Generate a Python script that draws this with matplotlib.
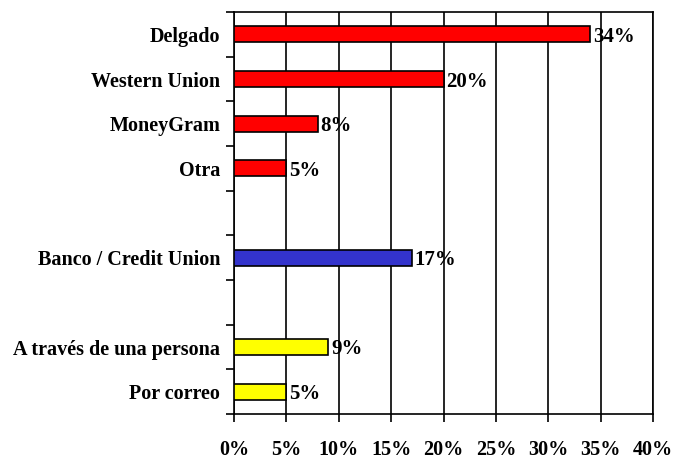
import matplotlib
matplotlib.use("Agg")
import matplotlib.pyplot as plt
import numpy as np

# datos del gráfico (de arriba hacia abajo, con huecos vacíos)
categories = ["Delgado", "Western Union", "MoneyGram", "Otra", "",
              "Banco / Credit Union", "", "A través de una persona", "Por correo"]
values = [34, 20, 8, 5, None, 17, None, 9, 5]
colors = ["#FF0000", "#FF0000", "#FF0000", "#FF0000", None,
          "#3333CC", None, "#FFFF00", "#FFFF00"]
xticks = [0, 5, 10, 15, 20, 25, 30, 35, 40]

plt.rcParams["font.family"] = ["Liberation Serif", "DejaVu Serif"]
plt.rcParams["font.weight"] = "bold"

fig = plt.figure(figsize=(6.73, 4.63), dpi=100)
ax = fig.add_axes([234 / 673, 1 - 414 / 463, (653 - 234) / 673, (414 - 12) / 463])

n = len(categories)
ypos = np.arange(n)
for y, v, c in zip(ypos, values, colors):
    if v is None:
        continue
    ax.barh(y, v, height=0.36, color=c, edgecolor="black", linewidth=1.2, zorder=3)
    ax.text(v + 0.25, y, f"{v}%", va="center_baseline", ha="left", fontsize=15,
            fontweight="bold", zorder=4)

ax.set_xlim(0, 40)
ax.set_ylim(n - 0.5, -0.5)
ax.set_xticks(xticks)
ax.set_xticklabels([f"{t}%" for t in xticks], fontsize=14.5, fontweight="bold")
ax.xaxis.grid(True, color="black", linewidth=1.2, zorder=1)
ax.tick_params(axis="x", direction="out", length=6, width=1.2, pad=13)

# etiquetas de categoría centradas, marcas en los límites
ax.set_yticks(ypos)
ax.set_yticklabels(categories, fontsize=14.5, fontweight="bold")
ax.tick_params(axis="y", which="major", length=0, pad=10)
ax.set_yticks(np.arange(n + 1) - 0.5, minor=True)
ax.tick_params(axis="y", which="minor", direction="out", length=6, width=1.2)

for s in ax.spines.values():
    s.set_linewidth(1.2)

fig.savefig("out.png", dpi=100)
